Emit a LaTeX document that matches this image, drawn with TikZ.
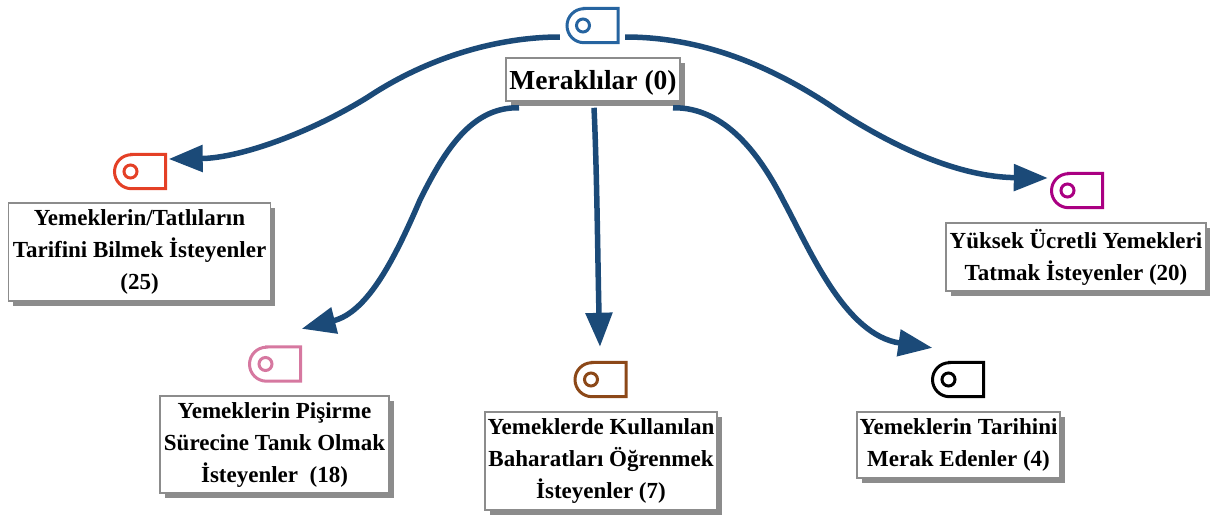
\documentclass[tikz,border=0pt]{standalone}
\usepackage{fontspec}
\setmainfont{Liberation Serif}
\usetikzlibrary{arrows.meta,shadows}
\definecolor{linkblue}{HTML}{1B4A78}
\definecolor{iconr}{RGB}{38,100,160}
\definecolor{icona}{RGB}{228,64,38}
\definecolor{iconb}{RGB}{214,120,160}
\definecolor{iconc}{RGB}{140,72,24}
\definecolor{icone}{RGB}{170,0,130}
\tikzset{x=1pt,y=-1pt,
 lbl/.style={draw=black!45,line width=1.5pt,fill=white,align=center,inner sep=0pt,
   font=\fontsize{23}{32}\selectfont\bfseries,
   execute at begin node={\rule{0pt}{24pt}},
   drop shadow={shadow xshift=4.5pt,shadow yshift=-4.5pt,fill=black!45,opacity=1}},
 iconbox/.style={inner sep=0pt,minimum width=51pt,minimum height=34pt},
 link/.style={draw=linkblue,line width=5.5pt,-{Triangle[length=34pt,width=26pt]}},
}
\newcommand{\tagicon}[3]{%
 \node[iconbox] (#1) at (#2) {};
 \draw[#3,line width=3pt] ([xshift=-8.5pt]#1.north) -- (#1.north east) -- (#1.south east)
   -- ([xshift=-8.5pt]#1.south) arc[start angle=-90,end angle=-270,radius=17pt] -- cycle;
 \draw[#3,line width=3pt] ([xshift=-9.5pt]#1.center) circle[radius=6.5pt];
}
\begin{document}
\begin{tikzpicture}
\useasboundingbox (0,0) rectangle (1210,514);
\tagicon{ir}{592.5,25.5}{iconr}
\tagicon{ia}{140,171.5}{icona}
\tagicon{ib}{275,364}{iconb}
\tagicon{ic}{600.5,379.5}{iconc}
\tagicon{id}{958,379.5}{black}
\tagicon{ie}{1077,190.5}{icone}
\node[lbl,minimum width=174pt,minimum height=43pt,font=\fontsize{27.5}{31}\selectfont\bfseries,execute at begin node={\rule{0pt}{25pt}}] (r) at (593,79.5) {Meraklılar (0)};
\node[lbl,minimum width=262pt,minimum height=98pt] (a) at (139.5,252) {Yemeklerin/Tatlıların\\Tarifini Bilmek İsteyenler\\(25)};
\node[lbl,minimum width=229pt,minimum height=97pt] (b) at (274.5,444.5) {Yemeklerin Pişirme\\Sürecine Tanık Olmak\\İsteyenler~ (18)};
\node[lbl,minimum width=232pt,minimum height=98pt] (c) at (601,461) {Yemeklerde Kullanılan\\Baharatları Öğrenmek\\İsteyenler (7)};
\node[lbl,minimum width=203pt,minimum height=66pt] (d) at (958.5,445) {Yemeklerin Tarihini\\Merak Edenler (4)};
\node[lbl,minimum width=260pt,minimum height=68pt] (e) at (1076,257) {Yüksek Ücretli Yemekleri\\Tatmak İsteyenler (20)};
\coordinate (ra) at ([shift={(-7,11.5)}]ir.west);
\coordinate (re) at ([shift={(7,11.5)}]ir.east);
\coordinate (rb) at ([shift={(-74,6)}]r.south);
\coordinate (rc) at ([shift={(1,6)}]r.south);
\coordinate (rd) at ([shift={(80,6)}]r.south);
\coordinate (ta) at ([shift={(3,-12.5)}]ia.east);
\coordinate (tb) at ([shift={(1,-18)}]ib.north east);
\coordinate (tc) at ([shift={(-0.5,-15.5)}]ic.north);
\coordinate (td) at ([shift={(0,-14.5)}]id.north west);
\coordinate (te) at ([shift={(-3.5,-12.5)}]ie.west);
\draw[link] (ra) .. controls (500,37) and (430,56) .. (368,97) .. controls (310,133) and (240,158) .. (ta);
\draw[link] (re) .. controls (705,37) and (775,68) .. (837,110) .. controls (895,148) and (960,177) .. (te);
\draw[link] (rb) .. controls (475,107) and (448,143) .. (420,200) .. controls (395,258) and (368,312) .. (tb);
\draw[link] (rc) .. controls (597,170) and (598,280) .. (tc);
\draw[link] (rd) .. controls (725,107) and (760,155) .. (783,200) .. controls (810,250) and (845,335) .. (td);
\end{tikzpicture}
\end{document}
